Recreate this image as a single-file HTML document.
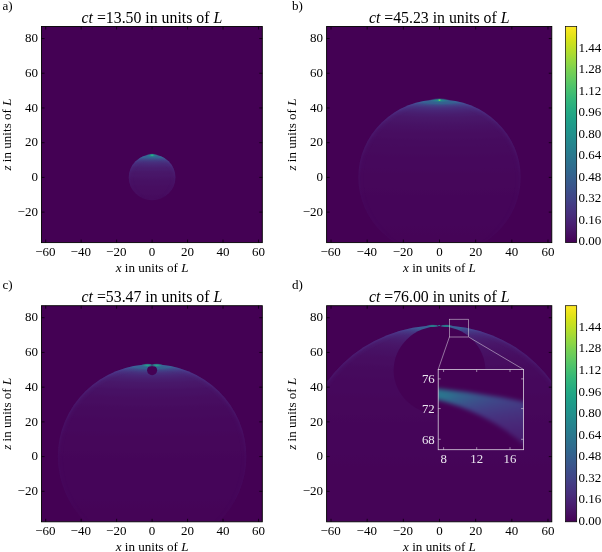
<!DOCTYPE html>
<html><head><meta charset="utf-8"><title>figure</title>
<style>
html,body{margin:0;padding:0;background:#fff;}
svg{display:block;}
text{font-family:"Liberation Serif","DejaVu Serif",serif;fill:#000;}
.t{font-size:13px;}
.ti{font-size:15.8px;}
.l{font-size:13.1px;}
.i{font-style:italic;}
.wt{fill:#ebe7f0;font-size:12.8px;}
</style></head><body>
<svg width="602" height="552" viewBox="0 0 602 552">
<rect width="602" height="552" fill="#fff"/>
<defs>
<linearGradient id="cbar" x1="0" y1="0" x2="0" y2="1"><stop offset="0.00000" stop-color="#fde725"/><stop offset="0.02500" stop-color="#efe51c"/><stop offset="0.05000" stop-color="#dfe318"/><stop offset="0.07500" stop-color="#cde11d"/><stop offset="0.10000" stop-color="#bddf26"/><stop offset="0.12500" stop-color="#addc30"/><stop offset="0.15000" stop-color="#9bd93c"/><stop offset="0.17500" stop-color="#8bd646"/><stop offset="0.20000" stop-color="#7ad151"/><stop offset="0.22500" stop-color="#6ccd5a"/><stop offset="0.25000" stop-color="#5ec962"/><stop offset="0.27500" stop-color="#50c46a"/><stop offset="0.30000" stop-color="#44bf70"/><stop offset="0.32500" stop-color="#38b977"/><stop offset="0.35000" stop-color="#2fb47c"/><stop offset="0.37500" stop-color="#28ae80"/><stop offset="0.40000" stop-color="#22a884"/><stop offset="0.42500" stop-color="#1fa287"/><stop offset="0.45000" stop-color="#1e9c89"/><stop offset="0.47500" stop-color="#1f968b"/><stop offset="0.50000" stop-color="#21918c"/><stop offset="0.52500" stop-color="#238a8d"/><stop offset="0.55000" stop-color="#25848e"/><stop offset="0.57500" stop-color="#277e8e"/><stop offset="0.60000" stop-color="#2a788e"/><stop offset="0.62500" stop-color="#2c728e"/><stop offset="0.65000" stop-color="#2f6c8e"/><stop offset="0.67500" stop-color="#31668e"/><stop offset="0.70000" stop-color="#355f8d"/><stop offset="0.72500" stop-color="#38598c"/><stop offset="0.75000" stop-color="#3b528b"/><stop offset="0.77500" stop-color="#3e4a89"/><stop offset="0.80000" stop-color="#414487"/><stop offset="0.82500" stop-color="#443b84"/><stop offset="0.85000" stop-color="#463480"/><stop offset="0.87500" stop-color="#472d7b"/><stop offset="0.90000" stop-color="#482475"/><stop offset="0.92500" stop-color="#481c6e"/><stop offset="0.95000" stop-color="#471365"/><stop offset="0.97500" stop-color="#460a5d"/><stop offset="1.00000" stop-color="#440154"/></linearGradient>
<clipPath id="clipa"><rect x="41.5" y="26.5" width="220.80" height="216.10"/></clipPath>
<radialGradient id="ga" gradientUnits="userSpaceOnUse" cx="0" cy="0" r="27.675" gradientTransform="translate(152.100 154.316) scale(10.2768 1.7360)"><stop offset="0.00000" stop-color="#33628d"/><stop offset="0.06992" stop-color="#33628d"/><stop offset="0.07486" stop-color="#34608d"/><stop offset="0.08014" stop-color="#375b8d"/><stop offset="0.08580" stop-color="#39568c"/><stop offset="0.09186" stop-color="#3b518b"/><stop offset="0.09834" stop-color="#3d4d8a"/><stop offset="0.10528" stop-color="#3f4889"/><stop offset="0.11272" stop-color="#404588"/><stop offset="0.12067" stop-color="#424086"/><stop offset="0.12919" stop-color="#433d84"/><stop offset="0.13831" stop-color="#443983"/><stop offset="0.14808" stop-color="#453581"/><stop offset="0.15853" stop-color="#46337f"/><stop offset="0.16972" stop-color="#472f7d"/><stop offset="0.18170" stop-color="#472d7b"/><stop offset="0.19453" stop-color="#472a7a"/><stop offset="0.20827" stop-color="#482878"/><stop offset="0.22297" stop-color="#482576"/><stop offset="0.23871" stop-color="#482475"/><stop offset="0.25556" stop-color="#482173"/><stop offset="0.27360" stop-color="#481f70"/><stop offset="0.29292" stop-color="#481d6f"/><stop offset="0.31360" stop-color="#481c6e"/><stop offset="0.33573" stop-color="#481b6d"/><stop offset="0.35943" stop-color="#48186a"/><stop offset="0.38481" stop-color="#481769"/><stop offset="0.41197" stop-color="#481668"/><stop offset="0.44106" stop-color="#481668"/><stop offset="0.47220" stop-color="#481467"/><stop offset="0.50553" stop-color="#471365"/><stop offset="0.54122" stop-color="#471164"/><stop offset="0.57943" stop-color="#471063"/><stop offset="0.62033" stop-color="#471063"/><stop offset="0.66412" stop-color="#470e61"/><stop offset="0.71101" stop-color="#470e61"/><stop offset="0.76120" stop-color="#470d60"/><stop offset="0.81494" stop-color="#470d60"/><stop offset="0.87247" stop-color="#460b5e"/><stop offset="0.93406" stop-color="#460b5e"/><stop offset="1.00000" stop-color="#460a5d"/></radialGradient>
<radialGradient id="rima" cx="0.5" cy="0.5" r="0.5"><stop offset="0.7382" stop-color="#5a64c0" stop-opacity="0"/><stop offset="0.8953" stop-color="#5a64c0" stop-opacity="0.3"/><stop offset="1" stop-color="#5a64c0" stop-opacity="1"/></radialGradient>
<linearGradient id="mla" gradientUnits="userSpaceOnUse" x1="0" y1="154.48" x2="0" y2="200.32"><stop offset="0" stop-color="#fff" stop-opacity="0.260"/><stop offset="0.15" stop-color="#fff" stop-opacity="0.160"/><stop offset="0.5" stop-color="#fff" stop-opacity="0.040"/><stop offset="1" stop-color="#fff" stop-opacity="0.000"/></linearGradient>
<mask id="mka" maskUnits="userSpaceOnUse" x="124.6" y="149.5" width="55.0" height="55.8"><rect x="124.6" y="149.5" width="55.0" height="55.8" fill="url(#mla)"/></mask>
<filter id="fa" color-interpolation-filters="sRGB" filterUnits="userSpaceOnUse" x="31.5" y="16.5" width="240.8" height="236.1"><feGaussianBlur color-interpolation-filters="sRGB" stdDeviation="0.7"/></filter>
<clipPath id="clipb"><rect x="326.6" y="26.5" width="225.20" height="216.10"/></clipPath>
<radialGradient id="gb" gradientUnits="userSpaceOnUse" cx="0" cy="0" r="92.721" gradientTransform="translate(439.500 100.059) scale(10.4779 1.7360)"><stop offset="0.00000" stop-color="#33628d"/><stop offset="0.02111" stop-color="#33628d"/><stop offset="0.02300" stop-color="#355e8d"/><stop offset="0.02505" stop-color="#38588c"/><stop offset="0.02730" stop-color="#3b518b"/><stop offset="0.02974" stop-color="#3e4c8a"/><stop offset="0.03240" stop-color="#404688"/><stop offset="0.03530" stop-color="#424186"/><stop offset="0.03846" stop-color="#433d84"/><stop offset="0.04191" stop-color="#453882"/><stop offset="0.04566" stop-color="#463480"/><stop offset="0.04975" stop-color="#46307e"/><stop offset="0.05420" stop-color="#472d7b"/><stop offset="0.05905" stop-color="#472a7a"/><stop offset="0.06434" stop-color="#482677"/><stop offset="0.07010" stop-color="#482475"/><stop offset="0.07637" stop-color="#482173"/><stop offset="0.08321" stop-color="#481f70"/><stop offset="0.09066" stop-color="#481c6e"/><stop offset="0.09877" stop-color="#481b6d"/><stop offset="0.10762" stop-color="#48186a"/><stop offset="0.11725" stop-color="#481769"/><stop offset="0.12775" stop-color="#481668"/><stop offset="0.13918" stop-color="#481467"/><stop offset="0.15164" stop-color="#471365"/><stop offset="0.16522" stop-color="#471164"/><stop offset="0.18001" stop-color="#471063"/><stop offset="0.19612" stop-color="#470e61"/><stop offset="0.21368" stop-color="#470d60"/><stop offset="0.23281" stop-color="#470d60"/><stop offset="0.25365" stop-color="#460b5e"/><stop offset="0.27636" stop-color="#460b5e"/><stop offset="0.30110" stop-color="#460a5d"/><stop offset="0.32805" stop-color="#460a5d"/><stop offset="0.35742" stop-color="#46085c"/><stop offset="0.42427" stop-color="#46085c"/><stop offset="0.46226" stop-color="#46075a"/><stop offset="0.54872" stop-color="#46075a"/><stop offset="0.59784" stop-color="#450559"/><stop offset="0.77320" stop-color="#450559"/><stop offset="0.84242" stop-color="#450457"/><stop offset="1.00000" stop-color="#450457"/></radialGradient>
<radialGradient id="rimb" cx="0.5" cy="0.5" r="0.5"><stop offset="0.9231" stop-color="#5a64c0" stop-opacity="0"/><stop offset="0.9692" stop-color="#5a64c0" stop-opacity="0.3"/><stop offset="1" stop-color="#5a64c0" stop-opacity="1"/></radialGradient>
<linearGradient id="mlb" gradientUnits="userSpaceOnUse" x1="0" y1="99.40" x2="0" y2="255.40"><stop offset="0" stop-color="#fff" stop-opacity="0.260"/><stop offset="0.15" stop-color="#fff" stop-opacity="0.160"/><stop offset="0.5" stop-color="#fff" stop-opacity="0.040"/><stop offset="1" stop-color="#fff" stop-opacity="0.000"/></linearGradient>
<mask id="mkb" maskUnits="userSpaceOnUse" x="345.9" y="94.4" width="187.2" height="166.0"><rect x="345.9" y="94.4" width="187.2" height="166.0" fill="url(#mlb)"/></mask>
<filter id="fb" color-interpolation-filters="sRGB" filterUnits="userSpaceOnUse" x="316.6" y="16.5" width="245.2" height="236.1"><feGaussianBlur color-interpolation-filters="sRGB" stdDeviation="0.7"/></filter>
<clipPath id="clipc"><rect x="41.5" y="305.7" width="220.80" height="216.10"/></clipPath>
<radialGradient id="gc" gradientUnits="userSpaceOnUse" cx="0" cy="0" r="109.613" gradientTransform="translate(152.100 365.168) scale(10.2768 1.7360)"><stop offset="0.00000" stop-color="#33628d"/><stop offset="0.01733" stop-color="#33628d"/><stop offset="0.01892" stop-color="#34608d"/><stop offset="0.02067" stop-color="#375a8c"/><stop offset="0.02257" stop-color="#3a538b"/><stop offset="0.02465" stop-color="#3d4d8a"/><stop offset="0.02693" stop-color="#3f4788"/><stop offset="0.02941" stop-color="#414287"/><stop offset="0.03212" stop-color="#433e85"/><stop offset="0.03508" stop-color="#443983"/><stop offset="0.03831" stop-color="#463480"/><stop offset="0.04184" stop-color="#46307e"/><stop offset="0.04570" stop-color="#472d7b"/><stop offset="0.04991" stop-color="#472a7a"/><stop offset="0.05451" stop-color="#482677"/><stop offset="0.05953" stop-color="#482475"/><stop offset="0.06502" stop-color="#482173"/><stop offset="0.07101" stop-color="#481f70"/><stop offset="0.07756" stop-color="#481c6e"/><stop offset="0.08471" stop-color="#481b6d"/><stop offset="0.09251" stop-color="#48186a"/><stop offset="0.10104" stop-color="#481769"/><stop offset="0.11035" stop-color="#481668"/><stop offset="0.12052" stop-color="#481467"/><stop offset="0.13163" stop-color="#471164"/><stop offset="0.14376" stop-color="#471164"/><stop offset="0.15701" stop-color="#471063"/><stop offset="0.17148" stop-color="#470e61"/><stop offset="0.18729" stop-color="#470d60"/><stop offset="0.20455" stop-color="#470d60"/><stop offset="0.22340" stop-color="#460b5e"/><stop offset="0.24399" stop-color="#460a5d"/><stop offset="0.26648" stop-color="#460a5d"/><stop offset="0.29104" stop-color="#46085c"/><stop offset="0.34716" stop-color="#46085c"/><stop offset="0.37916" stop-color="#46075a"/><stop offset="0.45227" stop-color="#46075a"/><stop offset="0.49396" stop-color="#450559"/><stop offset="0.70282" stop-color="#450559"/><stop offset="0.76760" stop-color="#450457"/><stop offset="1.00000" stop-color="#450457"/></radialGradient>
<radialGradient id="rimc" cx="0.5" cy="0.5" r="0.5"><stop offset="0.9350" stop-color="#5a64c0" stop-opacity="0"/><stop offset="0.9740" stop-color="#5a64c0" stop-opacity="0.3"/><stop offset="1" stop-color="#5a64c0" stop-opacity="1"/></radialGradient>
<linearGradient id="mlc" gradientUnits="userSpaceOnUse" x1="0" y1="364.30" x2="0" y2="548.90"><stop offset="0" stop-color="#fff" stop-opacity="0.260"/><stop offset="0.15" stop-color="#fff" stop-opacity="0.160"/><stop offset="0.5" stop-color="#fff" stop-opacity="0.040"/><stop offset="1" stop-color="#fff" stop-opacity="0.000"/></linearGradient>
<mask id="mkc" maskUnits="userSpaceOnUse" x="41.3" y="359.3" width="221.5" height="194.6"><rect x="41.3" y="359.3" width="221.5" height="194.6" fill="url(#mlc)"/></mask>
<filter id="fc" color-interpolation-filters="sRGB" filterUnits="userSpaceOnUse" x="31.5" y="295.7" width="240.8" height="236.1"><feGaussianBlur color-interpolation-filters="sRGB" stdDeviation="0.7"/></filter>
<clipPath id="clipd"><rect x="326.6" y="305.7" width="225.20" height="216.10"/></clipPath>
<radialGradient id="gd" gradientUnits="userSpaceOnUse" cx="0" cy="0" r="155.800" gradientTransform="translate(439.500 326.643) scale(10.4779 1.7360)"><stop offset="0.00000" stop-color="#365c8d"/><stop offset="0.01371" stop-color="#365c8d"/><stop offset="0.01505" stop-color="#39568c"/><stop offset="0.01652" stop-color="#3c508b"/><stop offset="0.01813" stop-color="#3e4a89"/><stop offset="0.01990" stop-color="#404588"/><stop offset="0.02185" stop-color="#423f85"/><stop offset="0.02398" stop-color="#443a83"/><stop offset="0.02633" stop-color="#453581"/><stop offset="0.02890" stop-color="#46327e"/><stop offset="0.03173" stop-color="#472e7c"/><stop offset="0.03483" stop-color="#472a7a"/><stop offset="0.03823" stop-color="#482677"/><stop offset="0.04197" stop-color="#482475"/><stop offset="0.04607" stop-color="#482173"/><stop offset="0.05058" stop-color="#481f70"/><stop offset="0.05552" stop-color="#481c6e"/><stop offset="0.06095" stop-color="#481a6c"/><stop offset="0.06690" stop-color="#48186a"/><stop offset="0.07344" stop-color="#481668"/><stop offset="0.08062" stop-color="#481467"/><stop offset="0.08850" stop-color="#471365"/><stop offset="0.09715" stop-color="#471164"/><stop offset="0.10665" stop-color="#471063"/><stop offset="0.11707" stop-color="#470e61"/><stop offset="0.12852" stop-color="#470d60"/><stop offset="0.14108" stop-color="#470d60"/><stop offset="0.15487" stop-color="#460b5e"/><stop offset="0.17001" stop-color="#460a5d"/><stop offset="0.18662" stop-color="#460a5d"/><stop offset="0.20487" stop-color="#46085c"/><stop offset="0.24687" stop-color="#46085c"/><stop offset="0.27100" stop-color="#46075a"/><stop offset="0.32657" stop-color="#46075a"/><stop offset="0.35849" stop-color="#450559"/><stop offset="0.47423" stop-color="#450559"/><stop offset="0.52058" stop-color="#450457"/><stop offset="0.91096" stop-color="#450457"/><stop offset="1.00000" stop-color="#440256"/></radialGradient>
<radialGradient id="rimd" cx="0.5" cy="0.5" r="0.5"><stop offset="0.9543" stop-color="#5a64c0" stop-opacity="0"/><stop offset="0.9817" stop-color="#5a64c0" stop-opacity="0.3"/><stop offset="1" stop-color="#5a64c0" stop-opacity="1"/></radialGradient>
<linearGradient id="mld" gradientUnits="userSpaceOnUse" x1="0" y1="325.18" x2="0" y2="588.02"><stop offset="0" stop-color="#fff" stop-opacity="0.260"/><stop offset="0.15" stop-color="#fff" stop-opacity="0.160"/><stop offset="0.5" stop-color="#fff" stop-opacity="0.040"/><stop offset="1" stop-color="#fff" stop-opacity="0.000"/></linearGradient>
<mask id="mkd" maskUnits="userSpaceOnUse" x="281.8" y="320.2" width="315.4" height="272.8"><rect x="281.8" y="320.2" width="315.4" height="272.8" fill="url(#mld)"/></mask>
<filter id="fd" color-interpolation-filters="sRGB" filterUnits="userSpaceOnUse" x="316.6" y="295.7" width="245.2" height="236.1"><feGaussianBlur color-interpolation-filters="sRGB" stdDeviation="0.7"/></filter>
<radialGradient id="gi" gradientUnits="userSpaceOnUse" cx="0" cy="0" r="40.000" gradientTransform="translate(378.440 394.793) scale(48.1008 7.5500)"><stop offset="0.00000" stop-color="#2b748e"/><stop offset="0.03393" stop-color="#2b748e"/><stop offset="0.03652" stop-color="#2d708e"/><stop offset="0.03931" stop-color="#306a8e"/><stop offset="0.04231" stop-color="#33638d"/><stop offset="0.04554" stop-color="#355e8d"/><stop offset="0.04901" stop-color="#38598c"/><stop offset="0.05275" stop-color="#3a538b"/><stop offset="0.05678" stop-color="#3d4e8a"/><stop offset="0.06111" stop-color="#3e4989"/><stop offset="0.06578" stop-color="#404588"/><stop offset="0.07080" stop-color="#424086"/><stop offset="0.07620" stop-color="#433d84"/><stop offset="0.08202" stop-color="#443983"/><stop offset="0.08828" stop-color="#453581"/><stop offset="0.09502" stop-color="#46327e"/><stop offset="0.10227" stop-color="#472f7d"/><stop offset="0.11007" stop-color="#472c7a"/><stop offset="0.11848" stop-color="#482979"/><stop offset="0.12752" stop-color="#482677"/><stop offset="0.13725" stop-color="#482475"/><stop offset="0.14773" stop-color="#482173"/><stop offset="0.15900" stop-color="#482071"/><stop offset="0.17114" stop-color="#481d6f"/><stop offset="0.18420" stop-color="#481c6e"/><stop offset="0.19826" stop-color="#481b6d"/><stop offset="0.21339" stop-color="#48186a"/><stop offset="0.22968" stop-color="#481769"/><stop offset="0.24721" stop-color="#481668"/><stop offset="0.26608" stop-color="#481467"/><stop offset="0.28639" stop-color="#471365"/><stop offset="0.30825" stop-color="#471164"/><stop offset="0.33177" stop-color="#471164"/><stop offset="0.35710" stop-color="#471063"/><stop offset="0.38435" stop-color="#470e61"/><stop offset="0.41369" stop-color="#470e61"/><stop offset="0.44526" stop-color="#470d60"/><stop offset="0.47925" stop-color="#470d60"/><stop offset="0.51583" stop-color="#460b5e"/><stop offset="0.55520" stop-color="#460b5e"/><stop offset="0.59758" stop-color="#460a5d"/><stop offset="0.64319" stop-color="#460a5d"/><stop offset="0.69228" stop-color="#46085c"/><stop offset="0.80199" stop-color="#46085c"/><stop offset="0.86320" stop-color="#46075a"/><stop offset="1.00000" stop-color="#46075a"/></radialGradient>
<clipPath id="clipi"><rect x="438.2" y="369.5" width="85.40" height="80.20"/></clipPath>
<filter id="fi" color-interpolation-filters="sRGB" filterUnits="userSpaceOnUse" x="418.2" y="349.5" width="125.4" height="120.2"><feGaussianBlur color-interpolation-filters="sRGB" stdDeviation="2.2"/></filter>
</defs>
<g clip-path="url(#clipa)"><g filter="url(#fa)">
<rect x="31.5" y="16.5" width="240.8" height="236.1" fill="#440154"/>
<ellipse cx="152.1" cy="177.4" rx="23.41" ry="22.92" fill="url(#ga)"/>
<ellipse cx="152.1" cy="177.4" rx="23.41" ry="22.92" fill="url(#rima)" mask="url(#mka)"/>
<radialGradient id="ha34"><stop offset="0" stop-color="#1f978b"/><stop offset="0.5" stop-color="#26818e" stop-opacity="0.7"/><stop offset="1" stop-color="#2f6c8e" stop-opacity="0"/></radialGradient>
<ellipse cx="152.10" cy="155.46" rx="6.50" ry="2.20" fill="url(#ha34)"/>
<radialGradient id="ha36"><stop offset="0" stop-color="#3dbc74"/><stop offset="0.5" stop-color="#21a685" stop-opacity="0.7"/><stop offset="1" stop-color="#238a8d" stop-opacity="0"/></radialGradient>
<ellipse cx="152.10" cy="155.26" rx="2.60" ry="1.40" fill="url(#ha36)"/>
</g></g>
<rect x="41.5" y="26.5" width="220.80" height="216.10" fill="none" stroke="#000" stroke-width="0.9"/>
<text class="t" x="45.30" y="256.10" text-anchor="middle">−60</text>
<text class="t" x="80.77" y="256.10" text-anchor="middle">−40</text>
<text class="t" x="116.23" y="256.10" text-anchor="middle">−20</text>
<text class="t" x="152.10" y="256.10" text-anchor="middle">0</text>
<text class="t" x="187.57" y="256.10" text-anchor="middle">20</text>
<text class="t" x="223.03" y="256.10" text-anchor="middle">40</text>
<text class="t" x="258.50" y="256.10" text-anchor="middle">60</text>
<text class="t" x="37.90" y="215.82" text-anchor="end">−20</text>
<text class="t" x="37.90" y="181.10" text-anchor="end">0</text>
<text class="t" x="37.90" y="146.38" text-anchor="end">20</text>
<text class="t" x="37.90" y="111.66" text-anchor="end">40</text>
<text class="t" x="37.90" y="76.94" text-anchor="end">60</text>
<text class="t" x="37.90" y="42.22" text-anchor="end">80</text>
<path d="M45.70 242.60v-3M45.70 26.50v3M81.17 242.60v-3M81.17 26.50v3M116.63 242.60v-3M116.63 26.50v3M152.10 242.60v-3M152.10 26.50v3M187.57 242.60v-3M187.57 26.50v3M223.03 242.60v-3M223.03 26.50v3M258.50 242.60v-3M258.50 26.50v3M41.50 212.12h3M262.30 212.12h-3M41.50 177.40h3M262.30 177.40h-3M41.50 142.68h3M262.30 142.68h-3M41.50 107.96h3M262.30 107.96h-3M41.50 73.24h3M262.30 73.24h-3M41.50 38.52h3M262.30 38.52h-3" stroke="#000" stroke-width="0.7" fill="none"/>
<text class="ti" x="151.90" y="22.60" text-anchor="middle"><tspan class="i">ct</tspan> =13.50 in units of <tspan class="i">L</tspan></text>
<text class="l" x="152.10" y="271.60" text-anchor="middle"><tspan class="i">x</tspan> in units of <tspan class="i">L</tspan></text>
<text class="l" transform="translate(10.90 134.55) rotate(-90)" text-anchor="middle"><tspan class="i">z</tspan> in units of <tspan class="i">L</tspan></text>
<text class="l" x="2.50" y="10.10">a)</text>
<g clip-path="url(#clipb)"><g filter="url(#fb)">
<rect x="316.6" y="16.5" width="245.2" height="236.1" fill="#440154"/>
<ellipse cx="439.5" cy="177.4" rx="81.23" ry="78.00" fill="url(#gb)"/>
<ellipse cx="439.5" cy="177.4" rx="81.23" ry="78.00" fill="url(#rimb)" mask="url(#mkb)"/>
<radialGradient id="hb62"><stop offset="0" stop-color="#1f978b"/><stop offset="0.5" stop-color="#26818e" stop-opacity="0.7"/><stop offset="1" stop-color="#2f6c8e" stop-opacity="0"/></radialGradient>
<ellipse cx="439.50" cy="100.38" rx="11.00" ry="2.40" fill="url(#hb62)"/>
<radialGradient id="hb64"><stop offset="0" stop-color="#f8e621"/><stop offset="0.5" stop-color="#3dbc74" stop-opacity="0.7"/><stop offset="1" stop-color="#1e9c89" stop-opacity="0"/></radialGradient>
<ellipse cx="439.50" cy="100.08" rx="2.20" ry="1.40" fill="url(#hb64)"/>
</g></g>
<rect x="326.6" y="26.5" width="225.20" height="216.10" fill="none" stroke="#000" stroke-width="0.9"/>
<text class="t" x="330.62" y="256.10" text-anchor="middle">−60</text>
<text class="t" x="366.78" y="256.10" text-anchor="middle">−40</text>
<text class="t" x="402.94" y="256.10" text-anchor="middle">−20</text>
<text class="t" x="439.50" y="256.10" text-anchor="middle">0</text>
<text class="t" x="475.66" y="256.10" text-anchor="middle">20</text>
<text class="t" x="511.82" y="256.10" text-anchor="middle">40</text>
<text class="t" x="547.98" y="256.10" text-anchor="middle">60</text>
<text class="t" x="323.00" y="215.82" text-anchor="end">−20</text>
<text class="t" x="323.00" y="181.10" text-anchor="end">0</text>
<text class="t" x="323.00" y="146.38" text-anchor="end">20</text>
<text class="t" x="323.00" y="111.66" text-anchor="end">40</text>
<text class="t" x="323.00" y="76.94" text-anchor="end">60</text>
<text class="t" x="323.00" y="42.22" text-anchor="end">80</text>
<path d="M331.02 242.60v-3M331.02 26.50v3M367.18 242.60v-3M367.18 26.50v3M403.34 242.60v-3M403.34 26.50v3M439.50 242.60v-3M439.50 26.50v3M475.66 242.60v-3M475.66 26.50v3M511.82 242.60v-3M511.82 26.50v3M547.98 242.60v-3M547.98 26.50v3M326.60 212.12h3M551.80 212.12h-3M326.60 177.40h3M551.80 177.40h-3M326.60 142.68h3M551.80 142.68h-3M326.60 107.96h3M551.80 107.96h-3M326.60 73.24h3M551.80 73.24h-3M326.60 38.52h3M551.80 38.52h-3" stroke="#000" stroke-width="0.7" fill="none"/>
<text class="ti" x="439.20" y="22.60" text-anchor="middle"><tspan class="i">ct</tspan> =45.23 in units of <tspan class="i">L</tspan></text>
<text class="l" x="439.50" y="271.60" text-anchor="middle"><tspan class="i">x</tspan> in units of <tspan class="i">L</tspan></text>
<text class="l" transform="translate(296.00 134.55) rotate(-90)" text-anchor="middle"><tspan class="i">z</tspan> in units of <tspan class="i">L</tspan></text>
<text class="l" x="292.00" y="10.10">b)</text>
<rect x="565.5" y="26.5" width="11.20" height="216.10" fill="url(#cbar)" stroke="#000" stroke-width="0.7"/>
<text class="t" x="578.60" y="245.40">0.00</text>
<text class="t" x="578.60" y="223.88">0.16</text>
<text class="t" x="578.60" y="202.37">0.32</text>
<text class="t" x="578.60" y="180.85">0.48</text>
<text class="t" x="578.60" y="159.34">0.64</text>
<text class="t" x="578.60" y="137.82">0.80</text>
<text class="t" x="578.60" y="116.30">0.96</text>
<text class="t" x="578.60" y="94.79">1.12</text>
<text class="t" x="578.60" y="73.27">1.28</text>
<text class="t" x="578.60" y="51.76">1.44</text>
<g clip-path="url(#clipc)"><g filter="url(#fc)">
<rect x="31.5" y="295.7" width="240.8" height="236.1" fill="#440154"/>
<ellipse cx="152.1" cy="456.6" rx="94.29" ry="92.30" fill="url(#gc)"/>
<ellipse cx="152.1" cy="456.6" rx="94.29" ry="92.30" fill="url(#rimc)" mask="url(#mkc)"/>
<ellipse cx="152.1" cy="370.25" rx="5.00" ry="4.90" fill="#440154"/>
<ellipse cx="152.1" cy="364.38" rx="1.30" ry="1.60" fill="#440154"/>
<radialGradient id="hc103"><stop offset="0" stop-color="#27ad81"/><stop offset="0.5" stop-color="#21908d" stop-opacity="0.7"/><stop offset="1" stop-color="#2a778e" stop-opacity="0"/></radialGradient>
<ellipse cx="147.50" cy="365.28" rx="6.50" ry="2.00" fill="url(#hc103)"/>
<radialGradient id="hc105"><stop offset="0" stop-color="#27ad81"/><stop offset="0.5" stop-color="#21908d" stop-opacity="0.7"/><stop offset="1" stop-color="#2a778e" stop-opacity="0"/></radialGradient>
<ellipse cx="156.70" cy="365.28" rx="6.50" ry="2.00" fill="url(#hc105)"/>
</g></g>
<rect x="41.5" y="305.7" width="220.80" height="216.10" fill="none" stroke="#000" stroke-width="0.9"/>
<text class="t" x="45.30" y="535.30" text-anchor="middle">−60</text>
<text class="t" x="80.77" y="535.30" text-anchor="middle">−40</text>
<text class="t" x="116.23" y="535.30" text-anchor="middle">−20</text>
<text class="t" x="152.10" y="535.30" text-anchor="middle">0</text>
<text class="t" x="187.57" y="535.30" text-anchor="middle">20</text>
<text class="t" x="223.03" y="535.30" text-anchor="middle">40</text>
<text class="t" x="258.50" y="535.30" text-anchor="middle">60</text>
<text class="t" x="37.90" y="495.02" text-anchor="end">−20</text>
<text class="t" x="37.90" y="460.30" text-anchor="end">0</text>
<text class="t" x="37.90" y="425.58" text-anchor="end">20</text>
<text class="t" x="37.90" y="390.86" text-anchor="end">40</text>
<text class="t" x="37.90" y="356.14" text-anchor="end">60</text>
<text class="t" x="37.90" y="321.42" text-anchor="end">80</text>
<path d="M45.70 521.80v-3M45.70 305.70v3M81.17 521.80v-3M81.17 305.70v3M116.63 521.80v-3M116.63 305.70v3M152.10 521.80v-3M152.10 305.70v3M187.57 521.80v-3M187.57 305.70v3M223.03 521.80v-3M223.03 305.70v3M258.50 521.80v-3M258.50 305.70v3M41.50 491.32h3M262.30 491.32h-3M41.50 456.60h3M262.30 456.60h-3M41.50 421.88h3M262.30 421.88h-3M41.50 387.16h3M262.30 387.16h-3M41.50 352.44h3M262.30 352.44h-3M41.50 317.72h3M262.30 317.72h-3" stroke="#000" stroke-width="0.7" fill="none"/>
<text class="ti" x="151.90" y="301.80" text-anchor="middle"><tspan class="i">ct</tspan> =53.47 in units of <tspan class="i">L</tspan></text>
<text class="l" x="152.10" y="550.80" text-anchor="middle"><tspan class="i">x</tspan> in units of <tspan class="i">L</tspan></text>
<text class="l" transform="translate(10.90 413.75) rotate(-90)" text-anchor="middle"><tspan class="i">z</tspan> in units of <tspan class="i">L</tspan></text>
<text class="l" x="2.50" y="289.30">c)</text>
<g clip-path="url(#clipd)"><g filter="url(#fd)">
<rect x="316.6" y="295.7" width="245.2" height="236.1" fill="#440154"/>
<ellipse cx="439.5" cy="456.6" rx="136.87" ry="131.42" fill="url(#gd)"/>
<ellipse cx="439.5" cy="456.6" rx="136.87" ry="131.42" fill="url(#rimd)" mask="url(#mkd)"/>
<ellipse cx="439.5" cy="370.25" rx="45.83" ry="44.01" fill="#440154"/>
<ellipse cx="439.5" cy="325.26" rx="2.20" ry="1.50" fill="#440154"/>
<radialGradient id="hd133"><stop offset="0" stop-color="#1f978b"/><stop offset="0.5" stop-color="#26818e" stop-opacity="0.7"/><stop offset="1" stop-color="#2f6c8e" stop-opacity="0"/></radialGradient>
<ellipse cx="432.50" cy="325.91" rx="7.00" ry="1.60" fill="url(#hd133)"/>
<radialGradient id="hd135"><stop offset="0" stop-color="#1f978b"/><stop offset="0.5" stop-color="#26818e" stop-opacity="0.7"/><stop offset="1" stop-color="#2f6c8e" stop-opacity="0"/></radialGradient>
<ellipse cx="446.50" cy="325.91" rx="7.00" ry="1.60" fill="url(#hd135)"/>
<radialGradient id="hd137"><stop offset="0" stop-color="#21908d"/><stop offset="0.5" stop-color="#26818e" stop-opacity="0.7"/><stop offset="1" stop-color="#2f6c8e" stop-opacity="0"/></radialGradient>
<ellipse cx="439.20" cy="325.56" rx="1.60" ry="1.00" fill="url(#hd137)"/>
</g></g>
<rect x="326.6" y="305.7" width="225.20" height="216.10" fill="none" stroke="#000" stroke-width="0.9"/>
<text class="t" x="330.62" y="535.30" text-anchor="middle">−60</text>
<text class="t" x="366.78" y="535.30" text-anchor="middle">−40</text>
<text class="t" x="402.94" y="535.30" text-anchor="middle">−20</text>
<text class="t" x="439.50" y="535.30" text-anchor="middle">0</text>
<text class="t" x="475.66" y="535.30" text-anchor="middle">20</text>
<text class="t" x="511.82" y="535.30" text-anchor="middle">40</text>
<text class="t" x="547.98" y="535.30" text-anchor="middle">60</text>
<text class="t" x="323.00" y="495.02" text-anchor="end">−20</text>
<text class="t" x="323.00" y="460.30" text-anchor="end">0</text>
<text class="t" x="323.00" y="425.58" text-anchor="end">20</text>
<text class="t" x="323.00" y="390.86" text-anchor="end">40</text>
<text class="t" x="323.00" y="356.14" text-anchor="end">60</text>
<text class="t" x="323.00" y="321.42" text-anchor="end">80</text>
<path d="M331.02 521.80v-3M331.02 305.70v3M367.18 521.80v-3M367.18 305.70v3M403.34 521.80v-3M403.34 305.70v3M439.50 521.80v-3M439.50 305.70v3M475.66 521.80v-3M475.66 305.70v3M511.82 521.80v-3M511.82 305.70v3M547.98 521.80v-3M547.98 305.70v3M326.60 491.32h3M551.80 491.32h-3M326.60 456.60h3M551.80 456.60h-3M326.60 421.88h3M551.80 421.88h-3M326.60 387.16h3M551.80 387.16h-3M326.60 352.44h3M551.80 352.44h-3M326.60 317.72h3M551.80 317.72h-3" stroke="#000" stroke-width="0.7" fill="none"/>
<text class="ti" x="439.20" y="301.80" text-anchor="middle"><tspan class="i">ct</tspan> =76.00 in units of <tspan class="i">L</tspan></text>
<text class="l" x="439.50" y="550.80" text-anchor="middle"><tspan class="i">x</tspan> in units of <tspan class="i">L</tspan></text>
<text class="l" transform="translate(296.00 413.75) rotate(-90)" text-anchor="middle"><tspan class="i">z</tspan> in units of <tspan class="i">L</tspan></text>
<text class="l" x="292.00" y="289.30">d)</text>
<rect x="565.5" y="305.7" width="11.20" height="216.10" fill="url(#cbar)" stroke="#000" stroke-width="0.7"/>
<text class="t" x="578.60" y="524.60">0.00</text>
<text class="t" x="578.60" y="503.08">0.16</text>
<text class="t" x="578.60" y="481.57">0.32</text>
<text class="t" x="578.60" y="460.05">0.48</text>
<text class="t" x="578.60" y="438.54">0.64</text>
<text class="t" x="578.60" y="417.02">0.80</text>
<text class="t" x="578.60" y="395.50">0.96</text>
<text class="t" x="578.60" y="373.99">1.12</text>
<text class="t" x="578.60" y="352.47">1.28</text>
<text class="t" x="578.60" y="330.96">1.44</text>
<g clip-path="url(#clipi)"><g filter="url(#fi)">
<rect x="418.2" y="349.5" width="125.4" height="120.2" fill="#440154"/>
<ellipse cx="378.44" cy="959.99" rx="630.80" ry="573.80" fill="url(#gi)"/>
<ellipse cx="378.44" cy="584.43" rx="211.65" ry="192.53" fill="#440154"/>
</g></g>
<rect x="438.2" y="369.5" width="85.40" height="80.20" fill="none" stroke="#d9d2df" stroke-width="0.8"/>
<rect x="449.4" y="319.2" width="19.2" height="17.8" fill="none" stroke="#d9d2df" stroke-width="0.55"/>
<path d="M449.4 337L438.2 369.5M468.6 337L523.6 369.5" stroke="#d9d2df" stroke-width="0.55" fill="none"/>
<text class="wt" x="434.70" y="383.10" text-anchor="end">76</text>
<text class="wt" x="434.70" y="412.80" text-anchor="end">72</text>
<text class="wt" x="434.70" y="443.50" text-anchor="end">68</text>
<text class="wt" x="443.60" y="462.70" text-anchor="middle">8</text>
<text class="wt" x="476.70" y="462.70" text-anchor="middle">12</text>
<text class="wt" x="510.00" y="462.70" text-anchor="middle">16</text>
<path d="M438.20 378.90h2.5M523.60 378.90h-2.5M438.20 408.60h2.5M523.60 408.60h-2.5M438.20 439.30h2.5M523.60 439.30h-2.5M443.60 449.70v-2.5M443.60 369.50v2.5M476.70 449.70v-2.5M476.70 369.50v2.5M510.00 449.70v-2.5M510.00 369.50v2.5" stroke="#d9d2df" stroke-width="0.6" fill="none"/>
</svg></body></html>
